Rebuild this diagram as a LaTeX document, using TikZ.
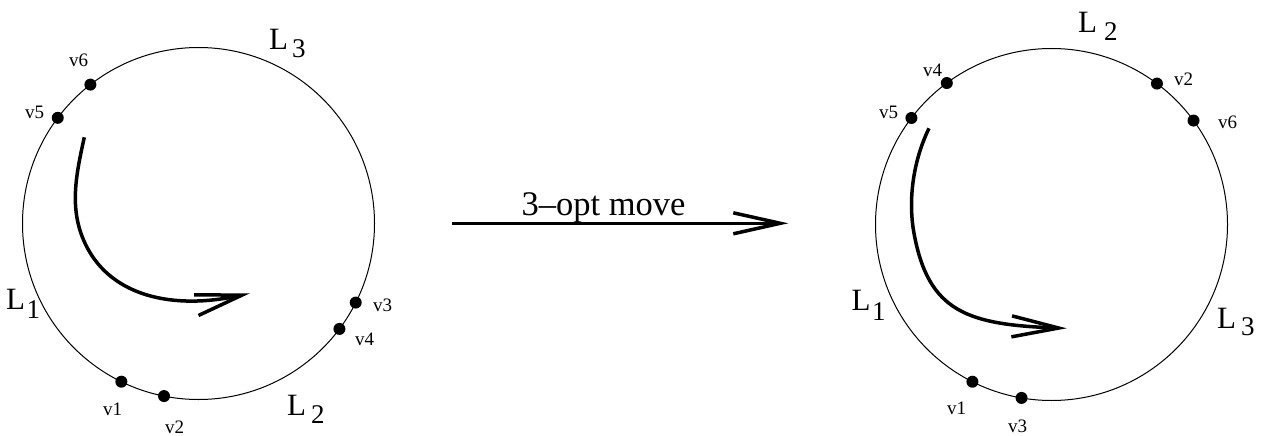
\documentclass[tikz,border=0pt]{standalone}
\usepackage{fontspec}
\setmainfont{Liberation Serif}
\usetikzlibrary{arrows.meta,calc}
\begin{document}
\begin{tikzpicture}[x=1pt,y=-1pt,
  ring/.style={circle,draw,line width=1pt,inner sep=0pt,minimum size=352pt},
  vdot/.style={circle,fill=black,inner sep=0pt,minimum size=12pt},
  vlab/.style={anchor=base west,inner sep=0pt,font=\fontsize{19}{19}\selectfont},
  Llab/.style={anchor=base west,inner sep=0pt,font=\fontsize{31}{31}\selectfont},
  Lsub/.style={anchor=base west,inner sep=0pt,font=\fontsize{27}{27}\selectfont},
  movelab/.style={anchor=base,inner sep=0pt,font=\fontsize{34.5}{34.5}\selectfont},
  bigarrow/.style={line width=3.5pt,-{Straight Barb[length=47pt,width=21pt]}},
]
\useasboundingbox (0,0) rectangle (1263,436);
% left tour
\node[ring] (CA) at (198.5,223.5) {};
\node[vdot] (a6) at ($(CA.center)+(-127.9:176)$) {};
\node[vdot] (a5) at ($(CA.center)+(-143.1:176)$) {};
\node[vdot] (a3) at ($(CA.center)+(26.7:176)$) {};
\node[vdot] (a4) at ($(CA.center)+(36.8:176)$) {};
\node[vdot] (a1) at ($(CA.center)+(116.0:176)$) {};
\node[vdot] (a2) at ($(CA.center)+(101.3:176)$) {};
\node[vlab] (ta6) at (69,66.7) {v6};
\node[vlab] (ta5) at (25,118.5) {v5};
\node[vlab] (ta3) at (373,311.7) {v3};
\node[vlab] (ta4) at (355,345) {v4};
\node[vlab] (ta1) at (103,415) {v1};
\node[vlab] (ta2) at (165,433) {v2};
\node[Llab] (La3) at (269,49) {L};
\node[Lsub] (Sa3) at (292,58) {3};
\node[Llab] (La1) at (6,309) {L};
\node[Lsub] (Sa1) at (26.5,318) {1};
\node[Llab] (La2) at (287,415) {L};
\node[Lsub] (Sa2) at (311,423) {2};
\coordinate (as) at (84.3,137.3);
\coordinate (am) at (86.7,246.7);
\coordinate (ae) at (250,293.3);
\draw[bigarrow] (as) .. controls (75.7,176.3) and (68.4,211.1) .. (am)
  .. controls (111.8,295.6) and (171.9,310.6) .. (ae);
% move arrow
\coordinate (ms) at (451.7,223.3);
\coordinate (me) at (788.3,223.3);
\draw[bigarrow] (ms) -- (me);
\node[movelab] (mv) at (603.5,215) {3--opt move};
% right tour
\node[ring] (CB) at (1051.5,224.5) {};
\node[vdot] (b4) at ($(CB.center)+(-126.5:176)$) {};
\node[vdot] (b5) at ($(CB.center)+(-142.75:176)$) {};
\node[vdot] (b2) at ($(CB.center)+(-53.2:176)$) {};
\node[vdot] (b6) at ($(CB.center)+(-36.2:176)$) {};
\node[vdot] (b1) at ($(CB.center)+(116.7:176)$) {};
\node[vdot] (b3) at ($(CB.center)+(99.8:176)$) {};
\node[vlab] (tb4) at (923,76) {v4};
\node[vlab] (tb5) at (879,118.3) {v5};
\node[vlab] (tb2) at (1174,85) {v2};
\node[vlab] (tb6) at (1218,128.3) {v6};
\node[vlab] (tb1) at (947,414) {v1};
\node[vlab] (tb3) at (1008,432.7) {v3};
\node[Llab] (Lb2) at (1078,32.3) {L};
\node[Lsub] (Sb2) at (1104,40.7) {2};
\node[Llab] (Lb1) at (851.5,310) {L};
\node[Lsub] (Sb1) at (872,320) {1};
\node[Llab] (Lb3) at (1217,328.3) {L};
\node[Lsub] (Sb3) at (1241,335) {3};
\coordinate (bs) at (929,128.3);
\coordinate (bm) at (914,233.3);
\coordinate (be) at (1066.7,328.3);
\draw[bigarrow] (bs) .. controls (913.6,159.8) and (907.7,199) .. (bm)
  .. controls (928.4,311.7) and (966.8,324.8) .. (be);
\end{tikzpicture}
\end{document}
